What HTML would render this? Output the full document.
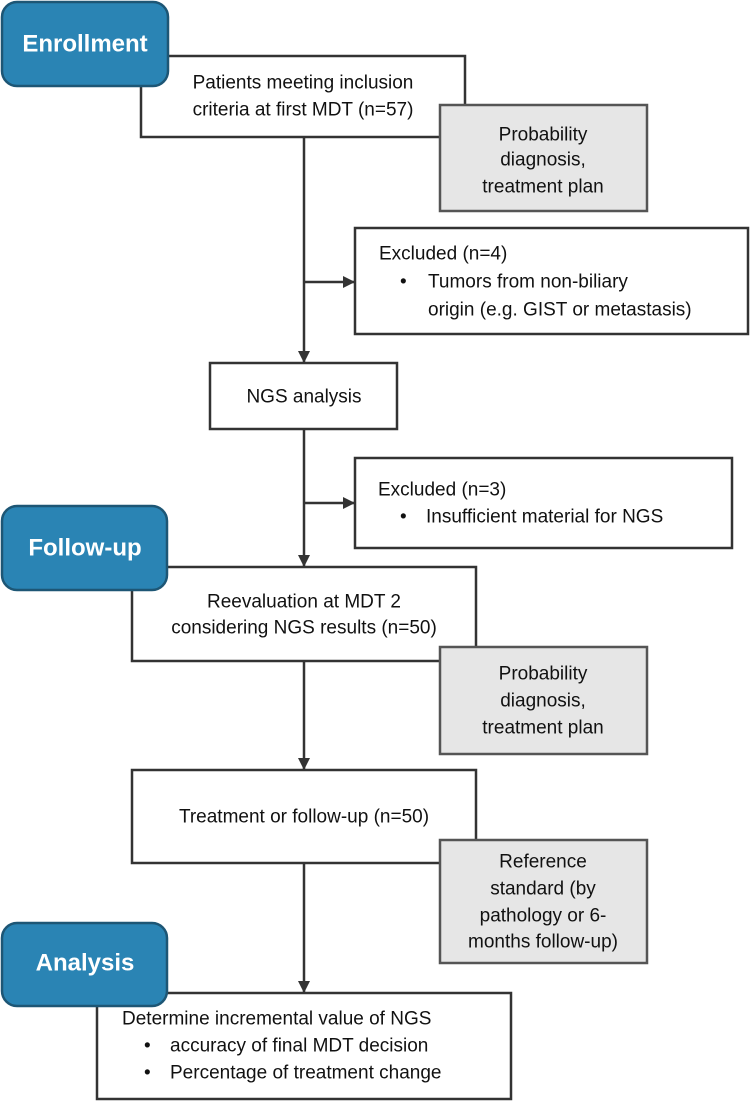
<!DOCTYPE html>
<html><head><meta charset="utf-8"><style>
html,body{margin:0;padding:0;background:#fff;}
svg{display:block;}
text{font-family:"Liberation Sans",sans-serif;font-size:19px;fill:#111;dominant-baseline:central;}
.h{fill:#fff;font-size:24px;font-weight:bold;}
</style></head><body>
<svg width="750" height="1101" viewBox="0 0 750 1101" xmlns="http://www.w3.org/2000/svg">
<defs><marker id="a" markerWidth="12" markerHeight="12" refX="11" refY="6" orient="auto" markerUnits="userSpaceOnUse"><path d="M0,0 L12,6 L0,12 z" fill="#333"/></marker></defs>
<g stroke="#333" stroke-width="2.5" fill="none">
<line x1="304" y1="137" x2="304" y2="362" marker-end="url(#a)"/>
<line x1="304" y1="282" x2="354" y2="282" marker-end="url(#a)"/>
<line x1="304" y1="429" x2="304" y2="566" marker-end="url(#a)"/>
<line x1="304" y1="503" x2="354" y2="503" marker-end="url(#a)"/>
<line x1="304" y1="661" x2="304" y2="769" marker-end="url(#a)"/>
<line x1="304" y1="863" x2="304" y2="992" marker-end="url(#a)"/>
</g>
<g stroke="#333" stroke-width="2.5" fill="#fff">
<rect x="141" y="56" width="324" height="81"/>
<rect x="355" y="228" width="393" height="106"/>
<rect x="210" y="363" width="187" height="66"/>
<rect x="355" y="458" width="377" height="90"/>
<rect x="132" y="567" width="344" height="94"/>
<rect x="132" y="770" width="344" height="93"/>
<rect x="97" y="993" width="414" height="106"/>
</g>
<g stroke="#555" stroke-width="2.5" fill="#e6e6e6">
<rect x="440" y="105" width="207" height="106"/>
<rect x="440" y="647" width="207" height="107"/>
<rect x="440" y="840" width="207" height="123"/>
</g>
<g stroke="#1d5675" stroke-width="2.5" fill="#2a84b4">
<rect x="2" y="2" width="166" height="84" rx="15"/>
<rect x="2" y="506" width="165" height="84" rx="15"/>
<rect x="2" y="923" width="165" height="83" rx="15"/>
</g>
<text class="h" x="85" y="44" text-anchor="middle">Enrollment</text>
<text class="h" x="85" y="548" text-anchor="middle">Follow-up</text>
<text class="h" x="85" y="963" text-anchor="middle">Analysis</text>
<g text-anchor="middle">
<text x="303" y="83">Patients meeting inclusion</text>
<text x="303" y="110">criteria at first MDT (n=57)</text>
<text x="543" y="135">Probability</text>
<text x="543" y="160">diagnosis,</text>
<text x="543" y="187">treatment plan</text>
<text x="304" y="397">NGS analysis</text>
<text x="304" y="602">Reevaluation at MDT 2</text>
<text x="304" y="628">considering NGS results (n=50)</text>
<text x="543" y="674">Probability</text>
<text x="543" y="701">diagnosis,</text>
<text x="543" y="728">treatment plan</text>
<text x="304" y="817">Treatment or follow-up (n=50)</text>
<text x="543" y="862">Reference</text>
<text x="543" y="889">standard (by</text>
<text x="543" y="916">pathology or 6-</text>
<text x="543" y="942">months follow-up)</text>
</g>
<text x="379" y="254">Excluded (n=4)</text>
<text x="400" y="282">•</text><text x="428" y="282">Tumors from non-biliary</text>
<text x="428" y="310">origin (e.g. GIST or metastasis)</text>
<text x="378" y="490">Excluded (n=3)</text>
<text x="400" y="517">•</text><text x="426" y="517">Insufficient material for NGS</text>
<text x="122" y="1019">Determine incremental value of NGS</text>
<text x="144" y="1046">•</text><text x="170" y="1046">accuracy of final MDT decision</text>
<text x="144" y="1073">•</text><text x="170" y="1073">Percentage of treatment change</text>
</svg>
</body></html>
